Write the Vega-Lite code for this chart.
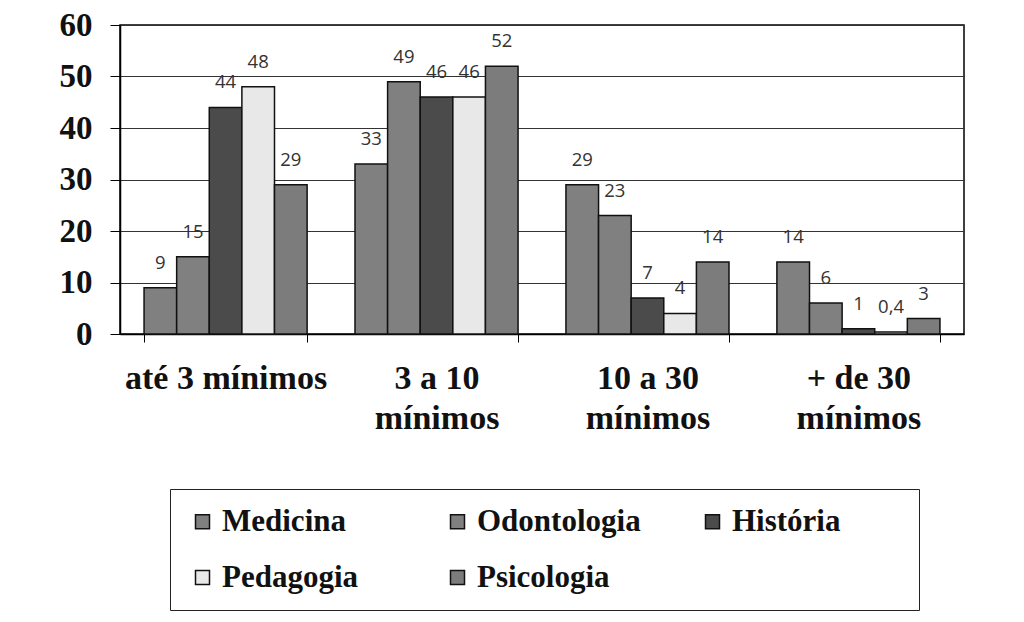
{
  "$schema": "https://vega.github.io/schema/vega-lite/v6.json",
  "width": 844,
  "height": 309,
  "autosize": {"type": "none"},
  "padding": {"left": 120, "top": 25, "right": 60, "bottom": 288},
  "background": "white",
  "config": {
    "view": {"stroke": "#000", "strokeWidth": 1.5},
    "locale": {"number": {"decimal": ",", "thousands": ".", "grouping": [3], "currency": ["R$", ""]}}
  },
  "data": {
    "values": [
      {"faixa": "até 3 mínimos", "curso": "Medicina", "valor": 9},
      {"faixa": "até 3 mínimos", "curso": "Odontologia", "valor": 15},
      {"faixa": "até 3 mínimos", "curso": "História", "valor": 44},
      {"faixa": "até 3 mínimos", "curso": "Pedagogia", "valor": 48},
      {"faixa": "até 3 mínimos", "curso": "Psicologia", "valor": 29},
      {"faixa": "3 a 10 mínimos", "curso": "Medicina", "valor": 33},
      {"faixa": "3 a 10 mínimos", "curso": "Odontologia", "valor": 49},
      {"faixa": "3 a 10 mínimos", "curso": "História", "valor": 46},
      {"faixa": "3 a 10 mínimos", "curso": "Pedagogia", "valor": 46},
      {"faixa": "3 a 10 mínimos", "curso": "Psicologia", "valor": 52},
      {"faixa": "10 a 30 mínimos", "curso": "Medicina", "valor": 29},
      {"faixa": "10 a 30 mínimos", "curso": "Odontologia", "valor": 23},
      {"faixa": "10 a 30 mínimos", "curso": "História", "valor": 7},
      {"faixa": "10 a 30 mínimos", "curso": "Pedagogia", "valor": 4},
      {"faixa": "10 a 30 mínimos", "curso": "Psicologia", "valor": 14},
      {"faixa": "+ de 30 mínimos", "curso": "Medicina", "valor": 14},
      {"faixa": "+ de 30 mínimos", "curso": "Odontologia", "valor": 6},
      {"faixa": "+ de 30 mínimos", "curso": "História", "valor": 1},
      {"faixa": "+ de 30 mínimos", "curso": "Pedagogia", "valor": 0.4},
      {"faixa": "+ de 30 mínimos", "curso": "Psicologia", "valor": 3}
    ]
  },
  "encoding": {
    "x": {
      "field": "faixa",
      "type": "nominal",
      "sort": ["até 3 mínimos", "3 a 10 mínimos", "10 a 30 mínimos", "+ de 30 mínimos"],
      "scale": {"paddingInner": 0.227, "paddingOuter": 0.114},
      "axis": {
        "title": null,
        "labelAngle": 0,
        "tickBand": "extent",
        "tickSize": 8,
        "tickColor": "#000",
        "domainColor": "#000",
        "domainWidth": 1.5,
        "labelFont": "Liberation Serif",
        "labelFontWeight": "bold",
        "labelFontSize": 34,
        "labelColor": "#111",
        "labelPadding": 19,
        "labelLimit": 400,
        "labelBaseline": "top",
        "labelLineHeight": 40,
        "labelExpr": "datum.value == null ? '' : (datum.value == 'até 3 mínimos' ? datum.value : [replace(datum.value, ' mínimos', ''), 'mínimos'])"
      }
    },
    "xOffset": {
      "field": "curso",
      "type": "nominal",
      "sort": ["Medicina", "Odontologia", "História", "Pedagogia", "Psicologia"],
      "scale": {"paddingInner": 0, "paddingOuter": 0}
    },
    "y": {
      "field": "valor",
      "type": "quantitative",
      "scale": {"domain": [0, 60], "nice": false},
      "axis": {
        "title": null,
        "values": [0, 10, 20, 30, 40, 50, 60],
        "grid": true,
        "gridColor": "#333",
        "gridWidth": 1,
        "tickSize": 10,
        "tickColor": "#000",
        "domainColor": "#000",
        "domainWidth": 1.5,
        "labelFont": "Liberation Serif",
        "labelFontWeight": "bold",
        "labelFontSize": 33,
        "labelColor": "#111",
        "labelPadding": 18
      }
    }
  },
  "layer": [
    {
      "mark": {"type": "bar", "stroke": "#111", "strokeWidth": 1.5},
      "encoding": {
        "color": {
          "field": "curso",
          "type": "nominal",
          "sort": ["Medicina", "Odontologia", "História", "Pedagogia", "Psicologia"],
          "scale": {
            "domain": ["Medicina", "Odontologia", "História", "Pedagogia", "Psicologia"],
            "range": ["#808080", "#808080", "#4b4b4b", "#e8e8e8", "#7c7c7c"]
          },
          "legend": {
            "title": "\u00a0",
            "titleOrient": "right",
            "titlePadding": 62,
            "titleFontSize": 10,
            "orient": "none",
            "legendX": 50,
            "legendY": 464,
            "direction": "horizontal",
            "columns": 3,
            "gridAlign": "all",
            "columnPadding": 56,
            "rowPadding": 24,
            "padding": 17,
            "strokeColor": "#222",
            "symbolType": "square",
            "symbolSize": 196,
            "symbolStrokeColor": "#111",
            "symbolStrokeWidth": 1.5,
            "symbolOpacity": 1,
            "labelFont": "Liberation Serif",
            "labelFontWeight": "bold",
            "labelFontSize": 31,
            "labelColor": "#111",
            "labelOffset": 4,
            "labelLimit": 300
          }
        }
      }
    },
    {
      "mark": {"type": "text", "baseline": "middle", "dy": -25, "font": "Open Sans", "fontSize": 18.5, "color": "#333"},
      "encoding": {
        "text": {"field": "valor", "type": "quantitative", "format": "~r"}
      }
    }
  ]
}
